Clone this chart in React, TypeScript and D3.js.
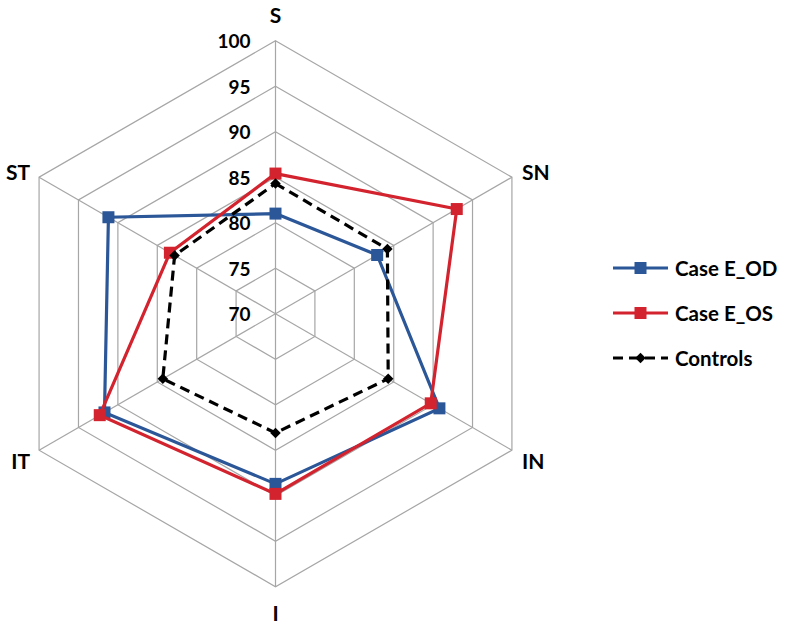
import React from "react";
import * as d3 from "d3";

const axes = ["S", "SN", "IN", "I", "IT", "ST"];
const ticks = [70, 75, 80, 85, 90, 95, 100];
const caseOD = [81.0, 82.9, 90.8, 88.7, 91.7, 91.2];
const caseOS = [85.4, 93.0, 89.7, 89.8, 92.3, 83.4];
const controls = [84.3, 84.2, 84.3, 83.1, 84.3, 82.8];

const seriesNames = ["Case E_OD", "Case E_OS", "Controls"];
const seriesColors = ["#2B5697", "#D2232E", "#000000"];

const W = 800;
const H = 626;
const cx = 275.5;
const cy = 313.7;
const R = 273;
const FONT = "Lato, 'Open Sans', sans-serif";

export default function App() {
  const r = d3.scaleLinear().domain([70, 100]).range([0, R]);
  const ang = d3
    .scalePoint<string>()
    .domain(axes)
    .range([0, (2 * Math.PI * (axes.length - 1)) / axes.length]);
  const pt = (ax: string, v: number): [number, number] => {
    const a = ang(ax)!;
    return [cx + r(v) * Math.sin(a), cy - r(v) * Math.cos(a)];
  };
  const line = d3.line<[number, number]>().curve(d3.curveLinearClosed);

  const series = [caseOD, caseOS, controls];

  const labelPos: Record<string, { dx: number; dy: number; anchor: string }> = {
    S: { dx: 0, dy: -26, anchor: "middle" },
    SN: { dx: 10, dy: -6, anchor: "start" },
    IN: { dx: 10, dy: 10, anchor: "start" },
    I: { dx: 0, dy: 26, anchor: "middle" },
    IT: { dx: -9, dy: 10, anchor: "end" },
    ST: { dx: -9, dy: -6, anchor: "end" },
  };

  return (
    <svg
      width={W}
      height={H}
      style={{ position: "absolute", left: 0, top: 0, background: "#fff" }}
      fontFamily={FONT}
    >
      {ticks.slice(1).map((t) => (
        <path
          key={t}
          d={line(axes.map((a) => pt(a, t))) || ""}
          fill="none"
          stroke="#A6A6A6"
          strokeWidth={1.2}
        />
      ))}
      {axes.map((a) => {
        const [x, y] = pt(a, 100);
        return <line key={a} x1={cx} y1={cy} x2={x} y2={y} stroke="#A6A6A6" strokeWidth={1.2} />;
      })}
      {ticks.map((t) => (
        <text
          key={t}
          x={cx - 25}
          y={pt("S", t)[1]}
          textAnchor="end"
          dominantBaseline="central"
          fontSize={19}
          fontWeight={700}
          fill="#000"
        >
          {t}
        </text>
      ))}
      {axes.map((a) => {
        const [x, y] = pt(a, 100);
        const p = labelPos[a];
        return (
          <text
            key={a}
            x={x + p.dx}
            y={y + p.dy}
            textAnchor={p.anchor as any}
            dominantBaseline="central"
            fontSize={21}
            fontWeight={700}
            fill="#000"
          >
            {a}
          </text>
        );
      })}
      {series.map((vals, si) => {
        const pts = axes.map((a, i) => pt(a, vals[i]));
        const isCtrl = si === 2;
        return (
          <g key={si}>
            <path
              d={line(pts) || ""}
              fill="none"
              stroke={seriesColors[si]}
              strokeWidth={3.2}
              strokeDasharray={isCtrl ? "10,6" : undefined}
              strokeLinejoin="miter"
            />
            {pts.map(([x, y], i) =>
              isCtrl ? (
                <path
                  key={i}
                  d={d3.symbol(d3.symbolDiamond2, 70)() || ""}
                  transform={`translate(${x},${y})`}
                  fill="#000"
                />
              ) : (
                <rect key={i} x={x - 6} y={y - 6} width={12} height={12} fill={seriesColors[si]} />
              )
            )}
          </g>
        );
      })}
      {seriesNames.map((n, i) => {
        const y = 268 + i * 45;
        const isCtrl = i === 2;
        return (
          <g key={n}>
            <line
              x1={613}
              x2={668}
              y1={y}
              y2={y}
              stroke={seriesColors[i]}
              strokeWidth={3.2}
              strokeDasharray={isCtrl ? "10,6" : undefined}
            />
            {isCtrl ? (
              <path
                d={d3.symbol(d3.symbolDiamond2, 70)() || ""}
                transform={`translate(640.5,${y})`}
                fill="#000"
              />
            ) : (
              <rect x={634.5} y={y - 6} width={12} height={12} fill={seriesColors[i]} />
            )}
            <text x={675} y={y} dominantBaseline="central" fontSize={20.5} fontWeight={700} fill="#000">
              {n}
            </text>
          </g>
        );
      })}
    </svg>
  );
}
